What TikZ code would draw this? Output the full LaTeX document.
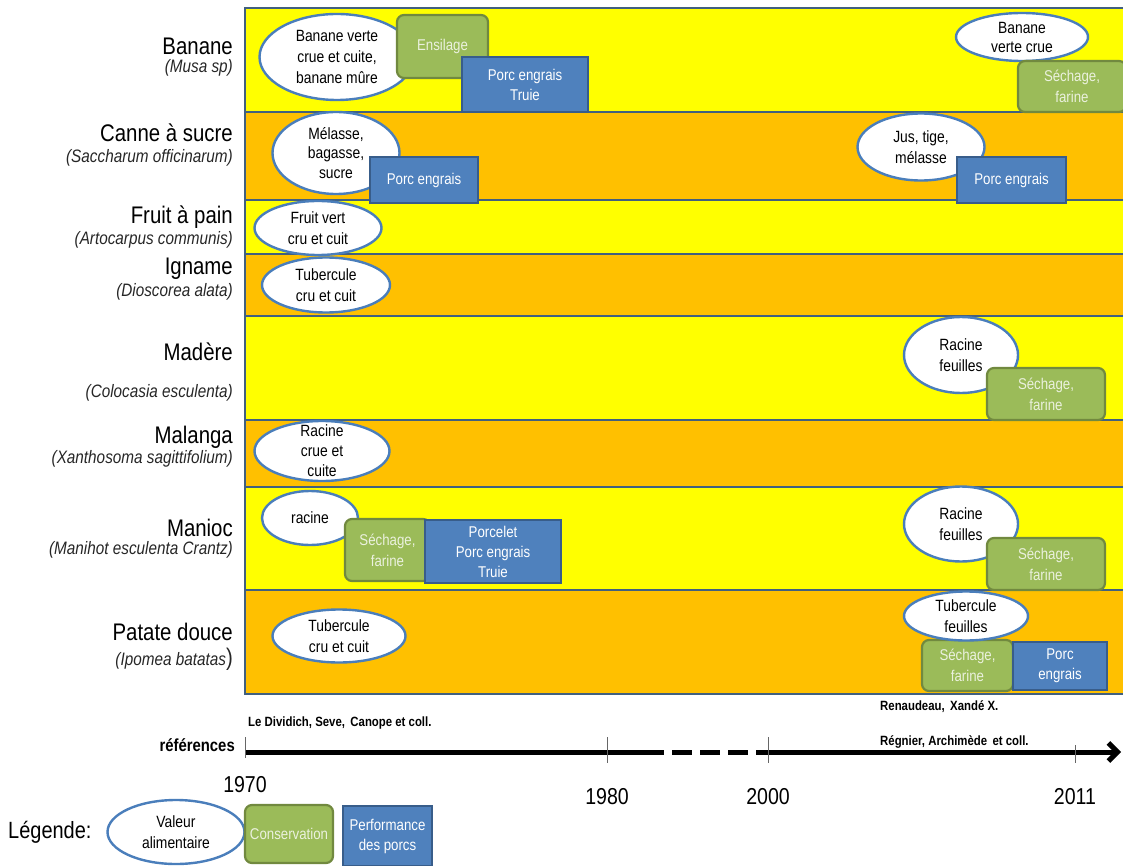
\documentclass[tikz,border=0pt]{standalone}
\usepackage{fontspec}
\setmainfont{Liberation Sans}[FakeStretch=0.85]
\usetikzlibrary{arrows.meta,shapes.geometric}
\definecolor{yel}{HTML}{FFFF00}
\definecolor{org}{HTML}{FFC000}
\definecolor{bandline}{HTML}{41607F}
\definecolor{ellline}{HTML}{4A7EBB}
\definecolor{grfill}{HTML}{9BBB59}
\definecolor{grline}{HTML}{71893F}
\definecolor{grtext}{HTML}{EBF1DE}
\definecolor{blfill}{HTML}{4F81BD}
\definecolor{blline}{HTML}{385D8A}
\definecolor{latgray}{HTML}{262626}
\begin{document}
\begin{tikzpicture}[x=1pt,y=-1pt,
  band/.style={draw=bandline,line width=2.6pt},
  ell/.style={ellipse,draw=ellline,line width=2.4pt,fill=white,inner sep=0pt},
  etxt/.style={align=center,inner sep=0pt,font=\fontsize{16.3}{21}\selectfont},
  cons/.style={draw=grline,line width=2.2pt,fill=grfill,rounded corners=7pt,align=center,
    text=grtext,inner sep=0pt,font=\fontsize{15.6}{21}\selectfont},
  perf/.style={draw=blline,line width=2.2pt,fill=blfill,align=center,text=white,
    inner sep=0pt,font=\fontsize{15.6}{20}\selectfont},
  crop/.style={anchor=east,inner sep=0pt,font=\fontsize{24}{26}\selectfont},
  latin/.style={anchor=east,inner sep=0pt,text=latgray,font=\fontsize{18}{20}\selectfont\itshape},
  year/.style={inner sep=0pt,font=\fontsize{23}{26}\selectfont},
  refs/.style={anchor=west,inner sep=0pt,font=\fontsize{13.4}{16}\selectfont\bfseries},
  axis/.style={line width=5pt,black},
  tick/.style={line width=0.9pt,draw=black!60}
]
\useasboundingbox (0,0) rectangle (1123,866);

% bands
\path[band,fill=yel] (245,8) rectangle (1130,112);
\path[band,fill=org] (245,112) rectangle (1130,200);
\path[band,fill=yel] (245,200) rectangle (1130,254);
\path[band,fill=org] (245,254) rectangle (1130,316);
\path[band,fill=yel] (245,316) rectangle (1130,420);
\path[band,fill=org] (245,420) rectangle (1130,487);
\path[band,fill=yel] (245,487) rectangle (1130,590);
\path[band,fill=org] (245,590) rectangle (1130,694);

% crop names
\node[crop] (n1) at (233,46) {Banane};
\node[latin] (l1) at (233,68) {(Musa sp)};
\node[crop] (n2) at (233,133) {Canne à sucre};
\node[latin] (l2) at (233,158) {(Saccharum officinarum)};
\node[crop] (n3) at (233,217) {Fruit à pain};
\node[latin] (l3) at (233,240) {(Artocarpus communis)};
\node[crop] (n4) at (233,269) {Igname};
\node[latin] (l4) at (233,292) {(Dioscorea alata)};
\node[crop] (n5) at (233,352) {Madère};
\node[latin] (l5) at (233,393) {(Colocasia esculenta)};
\node[crop] (n6) at (233,437) {Malanga};
\node[latin] (l6) at (233,459) {(Xanthosoma sagittifolium)};
\node[crop] (n7) at (233,528) {Manioc};
\node[latin] (l7) at (233,550) {(Manihot esculenta Crantz)};
\node[crop] (n8) at (233,632) {Patate douce};
\node[latin] (l8) at (233,659) {(Ipomea batatas{\upshape\fontsize{24}{24}\selectfont )}};

% Banane
\node[ell,minimum width=155pt,minimum height=86pt] (eb1) at (337,57) {};
\node[etxt] (eb1t) at (eb1) {Banane verte\\crue et cuite,\\banane mûre};
\node[cons,minimum width=91pt,minimum height=63pt] (cb1) at (442.5,46.5) {Ensilage};
\node[perf,minimum width=126pt,minimum height=55pt] (pb1) at (525,84.5) {Porc engrais\\Truie};
\node[ell,minimum width=132pt,minimum height=48pt] (eb2) at (1022,37) {};
\node[etxt,font=\fontsize{16.3}{19}\selectfont] (eb2t) at (eb2) {Banane\\verte crue};
\node[cons,minimum width=108pt,minimum height=51pt] (cb2) at (1072,86.5) {Séchage,\\farine};

% Canne
\node[ell,minimum width=127pt,minimum height=82pt] (ec1) at (336,153) {};
\node[etxt,font=\fontsize{16.3}{19.5}\selectfont] (ec1t) at (ec1) {Mélasse,\\bagasse,\\sucre};
\node[perf,minimum width=108pt,minimum height=46pt] (pc1) at (424,180) {Porc engrais};
\node[ell,minimum width=127pt,minimum height=67pt] (ec2) at (921,147) {};
\node[etxt] (ec2t) at (ec2) {Jus, tige,\\mélasse};
\node[perf,minimum width=109pt,minimum height=46pt] (pc2) at (1011.5,180) {Porc engrais};

% Fruit a pain
\node[ell,minimum width=127pt,minimum height=54pt] (ef) at (318,228) {};
\node[etxt] (eft) at (ef) {Fruit vert\\cru et cuit};

% Igname
\node[ell,minimum width=128pt,minimum height=55pt] (ei) at (326,285) {};
\node[etxt] (eit) at (ei) {Tubercule\\cru et cuit};

% Madere
\node[ell,minimum width=114pt,minimum height=76pt] (em) at (961,355) {};
\node[etxt] (emt) at (em) {Racine\\feuilles};
\node[cons,minimum width=118pt,minimum height=52pt] (cm) at (1046,394) {Séchage,\\farine};

% Malanga
\node[ell,minimum width=135pt,minimum height=60pt] (eml) at (322,451) {};
\node[etxt,font=\fontsize{16.3}{20}\selectfont] (emlt) at (eml) {Racine\\crue et\\cuite};

% Manioc
\node[ell,minimum width=96pt,minimum height=54pt] (en1) at (310,518) {};
\node[etxt] (en1t) at (en1) {racine};
\node[cons,minimum width=85pt,minimum height=62pt] (cn1) at (387.5,550) {Séchage,\\farine};
\node[perf,minimum width=136pt,minimum height=63pt] (pn1) at (493,551.5) {Porcelet\\Porc engrais\\Truie};
\node[ell,minimum width=114pt,minimum height=75pt] (en2) at (961,524) {};
\node[etxt] (en2t) at (en2) {Racine\\feuilles};
\node[cons,minimum width=118pt,minimum height=52pt] (cn2) at (1046,564) {Séchage,\\farine};

% Patate douce
\node[ell,minimum width=133pt,minimum height=53pt] (ep1) at (339,636) {};
\node[etxt] (ep1t) at (ep1) {Tubercule\\cru et cuit};
\node[cons,minimum width=91pt,minimum height=51pt] (cp2) at (967.5,665.5) {Séchage,\\farine};
\node[perf,minimum width=94pt,minimum height=48pt] (pp2) at (1060,666) {Porc\\engrais};
\node[ell,minimum width=124pt,minimum height=49pt] (ep2) at (966,616) {};
\node[etxt] (ep2t) at (ep2) {Tubercule\\feuilles};

% timeline
\coordinate (t0) at (245,752);
\coordinate (t1) at (664,752);
\coordinate (t2) at (762,752);
\coordinate (t3) at (1121,752);
\draw[axis] (t0) -- (t1);
\draw[axis,dash pattern=on 20pt off 8pt,dash phase=20pt] (t1) -- (t2);
\draw[axis,-{Straight Barb[length=9pt,width=18pt]}] (t2) -- (t3);
\coordinate (k0a) at (245,737); \coordinate (k0b) at (245,758);
\coordinate (k1a) at (607,737); \coordinate (k1b) at (607,763);
\coordinate (k2a) at (768,737); \coordinate (k2b) at (768,763);
\coordinate (k3a) at (1075,745); \coordinate (k3b) at (1075,763);
\draw[tick] (k0a) -- (k0b);
\draw[tick] (k1a) -- (k1b);
\draw[tick] (k2a) -- (k2b);
\draw[tick] (k3a) -- (k3b);
\node[year] (y1) at (245,785) {1970};
\node[year] (y2) at (607,797) {1980};
\node[year] (y3) at (768,797) {2000};
\node[year] (y4) at (1075,797) {2011};
\node[anchor=east,inner sep=0pt,font=\fontsize{17.5}{20}\selectfont\bfseries] (ref) at (235,745) {références};
\node[refs] (r1) at (248,723) {Le Dividich, Seve,\, Canope et coll.};
\node[refs] (r2) at (880,707) {Renaudeau,\, Xandé X.};
\node[refs] (r3) at (880,742) {Régnier, Archimède\, et coll.};

% legend
\node[anchor=west,inner sep=0pt,font=\fontsize{23.5}{26}\selectfont] (leg) at (8,832) {Légende:};
\node[ell,minimum width=137pt,minimum height=64pt] (el) at (176,832) {};
\node[etxt] (elt) at (el) {Valeur\\alimentaire};
\node[cons,minimum width=88pt,minimum height=58pt] (cl) at (289,834) {Conservation};
\node[perf,minimum width=89pt,minimum height=60pt] (pl) at (387.5,836) {Performance\\des porcs};
\end{tikzpicture}
\end{document}
